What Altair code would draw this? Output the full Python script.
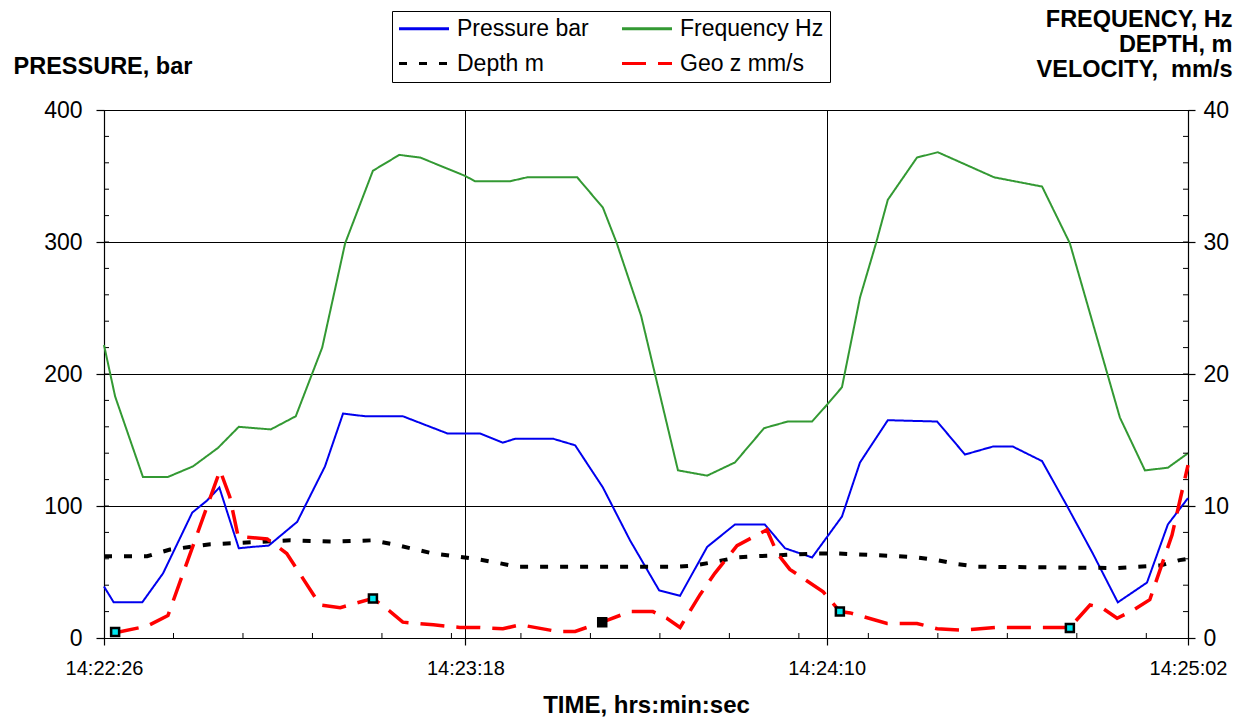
import altair as alt
import pandas as pd

# ---------------- data ----------------
# time in seconds after 14:22:26
press_t = [0, 1.4, 5.5, 8.5, 12.7, 14.8, 16.6, 19.4, 21.3, 23.7, 27.8, 31.8, 34.4, 37.6, 43.0,
           49.4, 54.1, 57.4, 59.2, 64.6, 67.8, 71.8, 75.7, 79.9, 82.9, 86.8, 90.8, 95.1, 98.0,
           101.9, 106.2, 108.8, 112.8, 119.9, 123.9, 127.9, 130.8, 135.0, 138.7, 142.3, 145.9,
           150.1, 153.1, 156.0]
press_v = [39, 27, 27, 49, 95, 104, 114, 68, 69, 70, 88, 130, 170, 168, 168,
           155, 155, 148, 151, 151, 146, 114, 74, 36, 32, 69, 86, 86, 68,
           61, 92, 133, 165, 164, 139, 145, 145, 134, 99, 64, 27,
           42, 86, 106]

freq_t = [0, 1.6, 5.6, 9.2, 12.8, 16.4, 19.4, 24.0, 27.6, 31.4, 34.7, 38.7, 42.5, 45.5, 52.0,
          53.4, 58.4, 60.9, 68.1, 71.8, 73.8, 77.3, 82.6, 86.8, 90.8, 95.0, 98.4, 101.9, 104.1,
          106.2, 108.8, 111.1, 112.8, 117.0, 120.0, 128.1, 135.0, 139.0, 146.2, 149.8, 153.1, 156.0]
freq_v = [22.2, 18.3, 12.2, 12.2, 13.0, 14.4, 16.0, 15.8, 16.8, 22.0, 29.9, 35.4, 36.6, 36.4, 35.0,
          34.6, 34.6, 34.9, 34.9, 32.6, 29.9, 24.4, 12.7, 12.3, 13.3, 15.9, 16.4, 16.4, 17.7,
          19.0, 25.8, 29.9, 33.2, 36.4, 36.8, 34.9, 34.2, 29.9, 16.7, 12.7, 12.9, 14.0]

depth_t = [0, 6.2, 9.5, 15.3, 26.8, 33.0, 38.6, 41.6, 47.4, 53.4, 56.6, 59.4, 82.5, 85.1, 88.2,
           91.1, 94.1, 102.6, 105.6, 114.1, 117.0, 119.9, 122.9, 125.8, 145.8, 148.8, 152.0, 154.8, 156.0]
depth_v = [6.2, 6.2, 6.7, 7.1, 7.4, 7.3, 7.4, 7.1, 6.4, 6.0, 5.7, 5.4, 5.4, 5.5, 5.8,
           6.1, 6.2, 6.4, 6.4, 6.2, 6.1, 5.9, 5.6, 5.4, 5.3, 5.4, 5.5, 5.9, 6.0]

geo_t = [1.6, 6.2, 9.2, 16.7, 18.1, 19.3, 23.5, 26.3, 31.1, 34.0, 38.7, 41.2, 43.0, 47.4, 51.2,
         54.1, 57.4, 59.9, 65.2, 67.8, 71.7, 75.7, 79.0, 81.0, 82.9, 85.8, 87.9, 91.1, 95.4, 96.9,
         98.7, 103.5, 105.9, 107.4, 112.7, 117.0, 119.9, 123.6, 128.5, 131.8, 139.0, 141.9, 143.6,
         145.8, 148.1, 150.5, 153.7, 156.0]
geo_v = [0.4, 0.9, 1.7, 12.7, 10.7, 7.7, 7.5, 6.4, 2.5, 2.3, 3.0, 2.0, 1.2, 1.0, 0.8,
         0.8, 0.7, 1.0, 0.5, 0.5, 1.2, 2.0, 2.0, 1.5, 0.8, 3.3, 4.9, 7.0, 8.2, 6.4,
         5.2, 3.5, 2.0, 1.9, 1.1, 1.1, 0.7, 0.6, 0.8, 0.8, 0.8, 2.5, 2.3,
         1.5, 2.1, 2.9, 7.8, 13.1]

marker_t = [1.6, 38.7, 71.7, 105.9, 139.0]
marker_v = [0.45, 3.0, 1.2, 2.0, 0.75]
marker_kind = ["open", "open", "solid", "open", "open"]

# legend is laid out column by column: Pressure/Depth in column 1, Frequency/Geo in column 2
series_names = ["Pressure bar", "Depth m", "Frequency Hz", "Geo z mm/s"]
time_ticks = [0, 52, 104, 156]
time_labels = ["14:22:26", "14:23:18", "14:24:10", "14:25:02"]
left_ticks = [0, 100, 200, 300, 400]
right_ticks = [0, 10, 20, 30, 40]
right_title = ["FREQUENCY, Hz", "DEPTH, m", "VELOCITY,\u00a0 mm/s"]

# ---------------- styling ----------------
W, H = 1084, 528
FONT = "Liberation Sans"
series_colors = ["#0000ee", "#000000", "#339933", "#ff0000"]
series_dash = [[1, 0], [8, 12], [1, 0], [24, 12]]

color_scale = alt.Scale(domain=series_names, range=series_colors)
dash_scale = alt.Scale(domain=series_names, range=series_dash)
x_scale = alt.Scale(domain=[0, 156], nice=False, zero=False)
yL_scale = alt.Scale(domain=[0, 400], nice=False)
yR_scale = alt.Scale(domain=[0, 40], nice=False)

legend = alt.Legend(
    title=None, orient="none", legendX=288, legendY=-99, columns=2,
    symbolType="M-1.05,0H3.95", symbolSize=400, symbolStrokeWidth=3,
    labelFont=FONT, labelFontSize=23, labelColor="black", labelOffset=36,
    labelLimit=400, columnPadding=27, rowPadding=11, padding=6,
    strokeColor="black", fillColor="white",
)

label_expr = " : ".join(
    f"datum.value == {v} ? '{s}'" for v, s in zip(time_ticks, time_labels)
) + " : ''"

x_axis = alt.Axis(
    values=time_ticks, grid=True, tickSize=7, labelExpr=label_expr,
    labelFontSize=20, labelBaseline="alphabetic", labelPadding=29,
    labelFlush=False, labelOverlap=False,
    title="TIME, hrs:min:sec", titleFontSize=24, titleFontWeight="bold",
    titleX=W / 2, titleY=74, titleBaseline="alphabetic", titleAlign="center",
)
left_axis = alt.Axis(
    orient="left", values=left_ticks, grid=True, tickSize=8, labelFontSize=23, labelPadding=14,
    title="PRESSURE, bar", titleAngle=0, titleAlign="left", titleBaseline="alphabetic",
    titleX=-91, titleY=-37, titleFontSize=23.5, titleFontWeight="bold",
)
right_axis = alt.Axis(
    orient="right", values=right_ticks, grid=False, tickSize=7, labelFontSize=23,
    labelPadding=8, title=right_title, titleAngle=0, titleAlign="right",
    titleBaseline="alphabetic", titleX=44, titleY=-84, titleLineHeight=25,
    titleFontSize=23.5, titleFontWeight="bold",
)

X = alt.X("t:Q", scale=x_scale, axis=x_axis)
YL = alt.Y("v:Q", scale=yL_scale, axis=left_axis)
YR = alt.Y("v:Q", scale=yR_scale, axis=right_axis)


def series_df(t, v, name):
    return pd.DataFrame({"t": t, "v": v, "series": name})


def line_layer(df, width, y):
    return alt.Chart(df).mark_line(strokeWidth=width, strokeCap="butt").encode(
        x=X, y=y,
        color=alt.Color("series:N", scale=color_scale, legend=legend),
        strokeDash=alt.StrokeDash("series:N", scale=dash_scale, legend=legend),
    )


pressure = line_layer(series_df(press_t, press_v, "Pressure bar"), 2, YL)

# legend shadow
shadow = alt.Chart(pd.DataFrame({"a": [0]})).mark_rect(color="black").encode(
    x=alt.value(288 + 3), x2=alt.value(288 + 432 + 3),
    y=alt.value(-99 + 3), y2=alt.value(-99 + 69 + 3),
)

left_minor = alt.Chart(pd.DataFrame({"v": list(range(20, 400, 20))})).mark_rule(
    color="black", strokeWidth=1).encode(y=YL, x=alt.value(0), x2=alt.value(5))
bottom_minor = alt.Chart(pd.DataFrame({"t": list(range(10, 156, 10))})).mark_rule(
    color="black", strokeWidth=1).encode(x=X, y=alt.value(H), y2=alt.value(H - 5))

left_group = alt.layer(pressure, left_minor, bottom_minor, shadow)

freq = line_layer(series_df(freq_t, freq_v, "Frequency Hz"), 2, YR)
depth = line_layer(series_df(depth_t, depth_v, "Depth m"), 4, YR)
geo = line_layer(series_df(geo_t, geo_v, "Geo z mm/s"), 3.5, YR)

markers = alt.Chart(pd.DataFrame({"t": marker_t, "v": marker_v, "kind": marker_kind})).mark_square(
    size=64, stroke="black", strokeWidth=2.5, opacity=1).encode(
    x=X, y=YR,
    fill=alt.Fill("kind:N", scale=alt.Scale(domain=["open", "solid"], range=["#00e8f0", "#000000"]),
                  legend=None),
)
right_minor = alt.Chart(pd.DataFrame({"v": list(range(2, 40, 2))})).mark_rule(
    color="black", strokeWidth=1).encode(y=YR, x=alt.value(W - 5), x2=alt.value(W))

right_group = alt.layer(freq, depth, geo, markers, right_minor)

chart = (
    alt.layer(left_group, right_group)
    .resolve_scale(y="independent")
    .properties(
        width=W, height=H,
        padding={"left": 104, "top": 110, "right": 59, "bottom": 81},
        autosize=alt.AutoSizeParams(type="none"),
        background="white",
    )
    .configure_view(stroke="black", strokeWidth=1)
    .configure_axis(
        labelFont=FONT, titleFont=FONT, labelColor="black", titleColor="black",
        tickColor="black", domainColor="black", gridColor="black", gridOpacity=1,
        domainWidth=1.2, gridWidth=1, tickWidth=1.2,
    )
)

chart.save("out.html", embed_options={"renderer": "svg", "actions": False})
